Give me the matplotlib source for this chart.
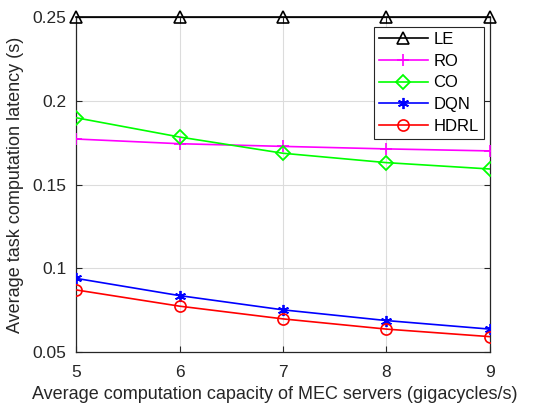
import matplotlib.pyplot as plt

# -------- Data --------
capacity = [5, 6, 7, 8, 9]
le = [0.25, 0.25, 0.25, 0.25, 0.25]
ro = [0.1772, 0.1744, 0.1728, 0.1713, 0.1701]
co = [0.1899, 0.1784, 0.1687, 0.1631, 0.1593]
dqn = [0.0940, 0.0837, 0.0752, 0.0688, 0.0637]
hdrl = [0.0871, 0.0774, 0.0698, 0.0637, 0.0592]

plt.rcParams['font.family'] = ['Liberation Sans', 'DejaVu Sans']

fig = plt.figure(figsize=(5.36, 4.07), dpi=100)
ax = fig.add_axes([0.142, 0.135, 0.772, 0.823])

# -------- Series --------
ax.plot(capacity, le, color='black', marker='^', ms=8, mfc='none', mew=1.2,
        lw=1.2, label='LE', clip_on=False, zorder=5)
ax.plot(capacity, ro, color='#ff00ff', marker='+', ms=9, mew=1.2,
        lw=1.2, label='RO', zorder=4)
ax.plot(capacity, co, color='#00ff00', marker='D', ms=7, mfc='none', mew=1.3,
        lw=1.2, label='CO', zorder=4)
ax.plot(capacity, dqn, color='#0000ff', marker=(6, 2, 0), ms=8, mew=1.3,
        lw=1.2, label='DQN', zorder=4)
ax.plot(capacity, hdrl, color='#ff0000', marker='o', ms=8, mfc='none', mew=1.2,
        lw=1.2, label='HDRL', zorder=4)

# -------- Axes styling (MATLAB-like) --------
ax.set_xlim(5, 9)
ax.set_ylim(0.05, 0.25)
ax.set_xticks([5, 6, 7, 8, 9])
ax.set_yticks([0.05, 0.1, 0.15, 0.2, 0.25])
ax.set_yticklabels(['0.05', '0.1', '0.15', '0.2', '0.25'])
ax.grid(True, color='#dcdcdc', lw=0.8)
ax.set_axisbelow(True)
ax.tick_params(direction='in', top=True, right=True, labelsize=12.5,
               length=4, colors='#262626', labelcolor='#262626')
ax.tick_params(axis='x', pad=9)
ax.tick_params(axis='y', pad=7)
for s in ax.spines.values():
    s.set_color('#262626')
    s.set_linewidth(0.9)

ax.set_xlabel('Average computation capacity of MEC servers (gigacycles/s)',
              fontsize=13, color='#262626')
ax.xaxis.set_label_coords(0.48, -0.1)
ax.set_ylabel('Average task computation latency (s)', fontsize=13,
              color='#262626', labelpad=6)

leg = ax.legend(loc='upper right', fontsize=12, fancybox=False,
                edgecolor='#262626', framealpha=1, handlelength=2.9,
                handletextpad=0.35, borderpad=0.3, labelspacing=0.4,
                borderaxespad=0, bbox_to_anchor=(0.985, 0.97))
leg.get_frame().set_linewidth(0.8)

plt.savefig('out.png', dpi=100)
